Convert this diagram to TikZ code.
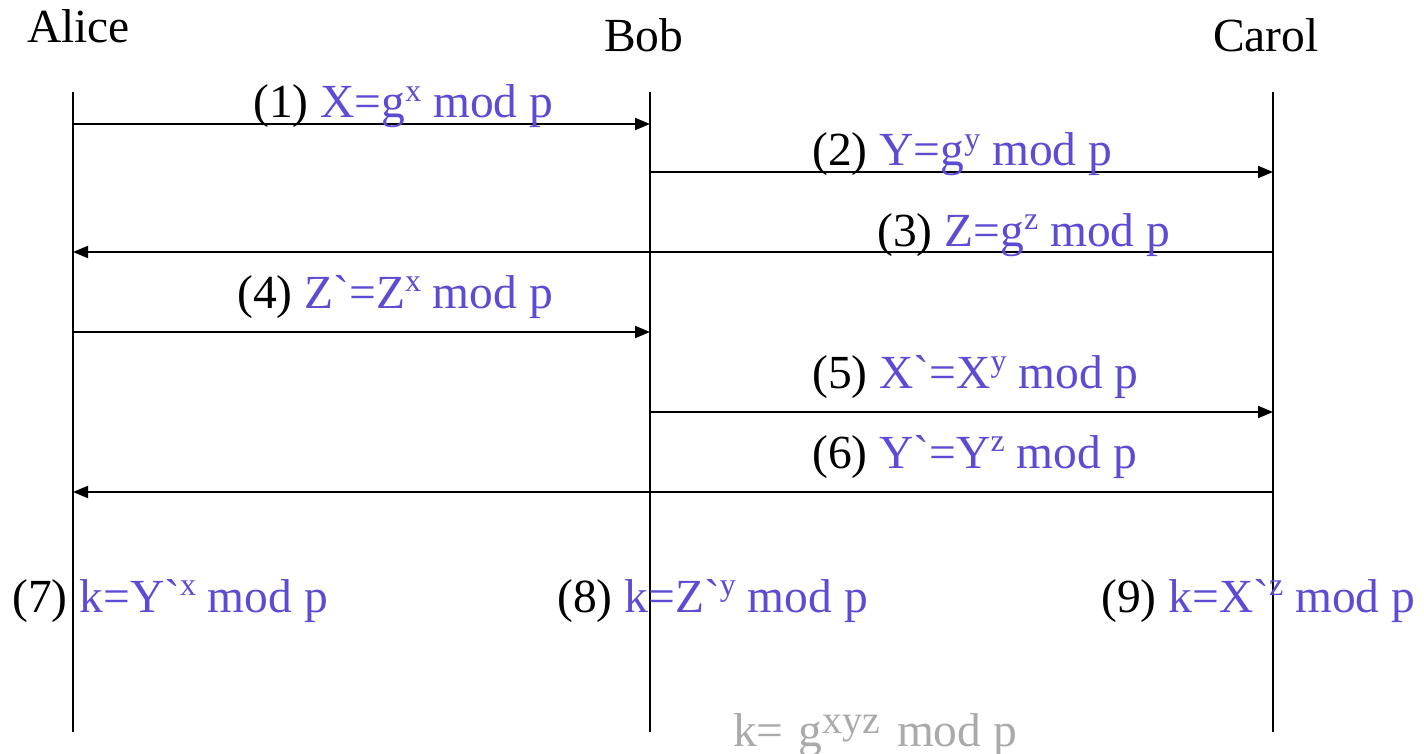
\documentclass[tikz,border=0pt]{standalone}
\usepackage{fontspec}
\newfontfamily\tnr{Liberation Serif}
\usetikzlibrary{arrows.meta}
\definecolor{lblue}{RGB}{92,76,212}
\definecolor{lgray}{RGB}{170,170,170}
\newcommand\sps[1]{\raisebox{0.34em}{\fontsize{32}{32}\selectfont #1}}
\newcommand\bigsps[1]{\raisebox{13pt}{\fontsize{40}{40}\selectfont #1}}
\tikzset{
 txt/.style={inner sep=0pt, anchor=base west, font=\tnr\fontsize{47.5}{52}\selectfont},
 life/.style={line width=2pt},
 msg/.style={line width=2pt, -{Triangle[length=15pt,width=12pt]}},
}
\begin{document}
\begin{tikzpicture}[x=1pt,y=-1pt]
\useasboundingbox (0,0) rectangle (1424,754);
% lifelines
\coordinate (At) at (73,92);  \coordinate (Ab) at (73,732);
\coordinate (Bt) at (650,92); \coordinate (Bb) at (650,732);
\coordinate (Ct) at (1273,92);\coordinate (Cb) at (1273,732);
\draw[life] (At) -- (Ab);
\draw[life] (Bt) -- (Bb);
\draw[life] (Ct) -- (Cb);
% names
\node[txt] (alice) at (27,43) {Alice};
\node[txt] (bob) at (604,52) {Bob};
\node[txt] (carol) at (1213,52) {Carol};
% message endpoints
\coordinate (A1) at (73,124);  \coordinate (B1) at (650,124);
\coordinate (B2) at (650,172); \coordinate (C2) at (1273,172);
\coordinate (C3) at (1273,252);\coordinate (A3) at (73,252);
\coordinate (A4) at (73,332);  \coordinate (B4) at (650,332);
\coordinate (B5) at (650,412); \coordinate (C5) at (1273,412);
\coordinate (C6) at (1273,492);\coordinate (A6) at (73,492);
\draw[msg] (A1) -- (B1);
\draw[msg] (B2) -- (C2);
\draw[msg] (C3) -- (A3);
\draw[msg] (A4) -- (B4);
\draw[msg] (B5) -- (C5);
\draw[msg] (C6) -- (A6);
% labels
\node[txt] (l1) at (253,118) {(1) \textcolor{lblue}{X=g\sps{x} mod p}};
\node[txt] (l2) at (812,166) {(2) \textcolor{lblue}{Y=g\sps{y} mod p}};
\node[txt] (l3) at (877,246) {(3) \textcolor{lblue}{Z=g\sps{z} mod p}};
\node[txt] (l4) at (237,308) {(4) \textcolor{lblue}{Z`=Z\sps{x} mod p}};
\node[txt] (l5) at (812,388) {(5) \textcolor{lblue}{X`=X\sps{y} mod p}};
\node[txt] (l6) at (812,468) {(6) \textcolor{lblue}{Y`=Y\sps{z} mod p}};
\node[txt] (l7) at (12,612) {(7) \textcolor{lblue}{k=Y`\sps{x} mod p}};
\node[txt] (l8) at (557,612) {(8) \textcolor{lblue}{k=Z`\sps{y} mod p}};
\node[txt] (l9) at (1101,612) {(9) \textcolor{lblue}{k=X`\sps{z} mod p}};
\node[txt, text=lgray] (k) at (733,746) {k=\hspace{3pt} g\bigsps{xyz}\hspace{5pt} mod p};
\end{tikzpicture}
\end{document}
